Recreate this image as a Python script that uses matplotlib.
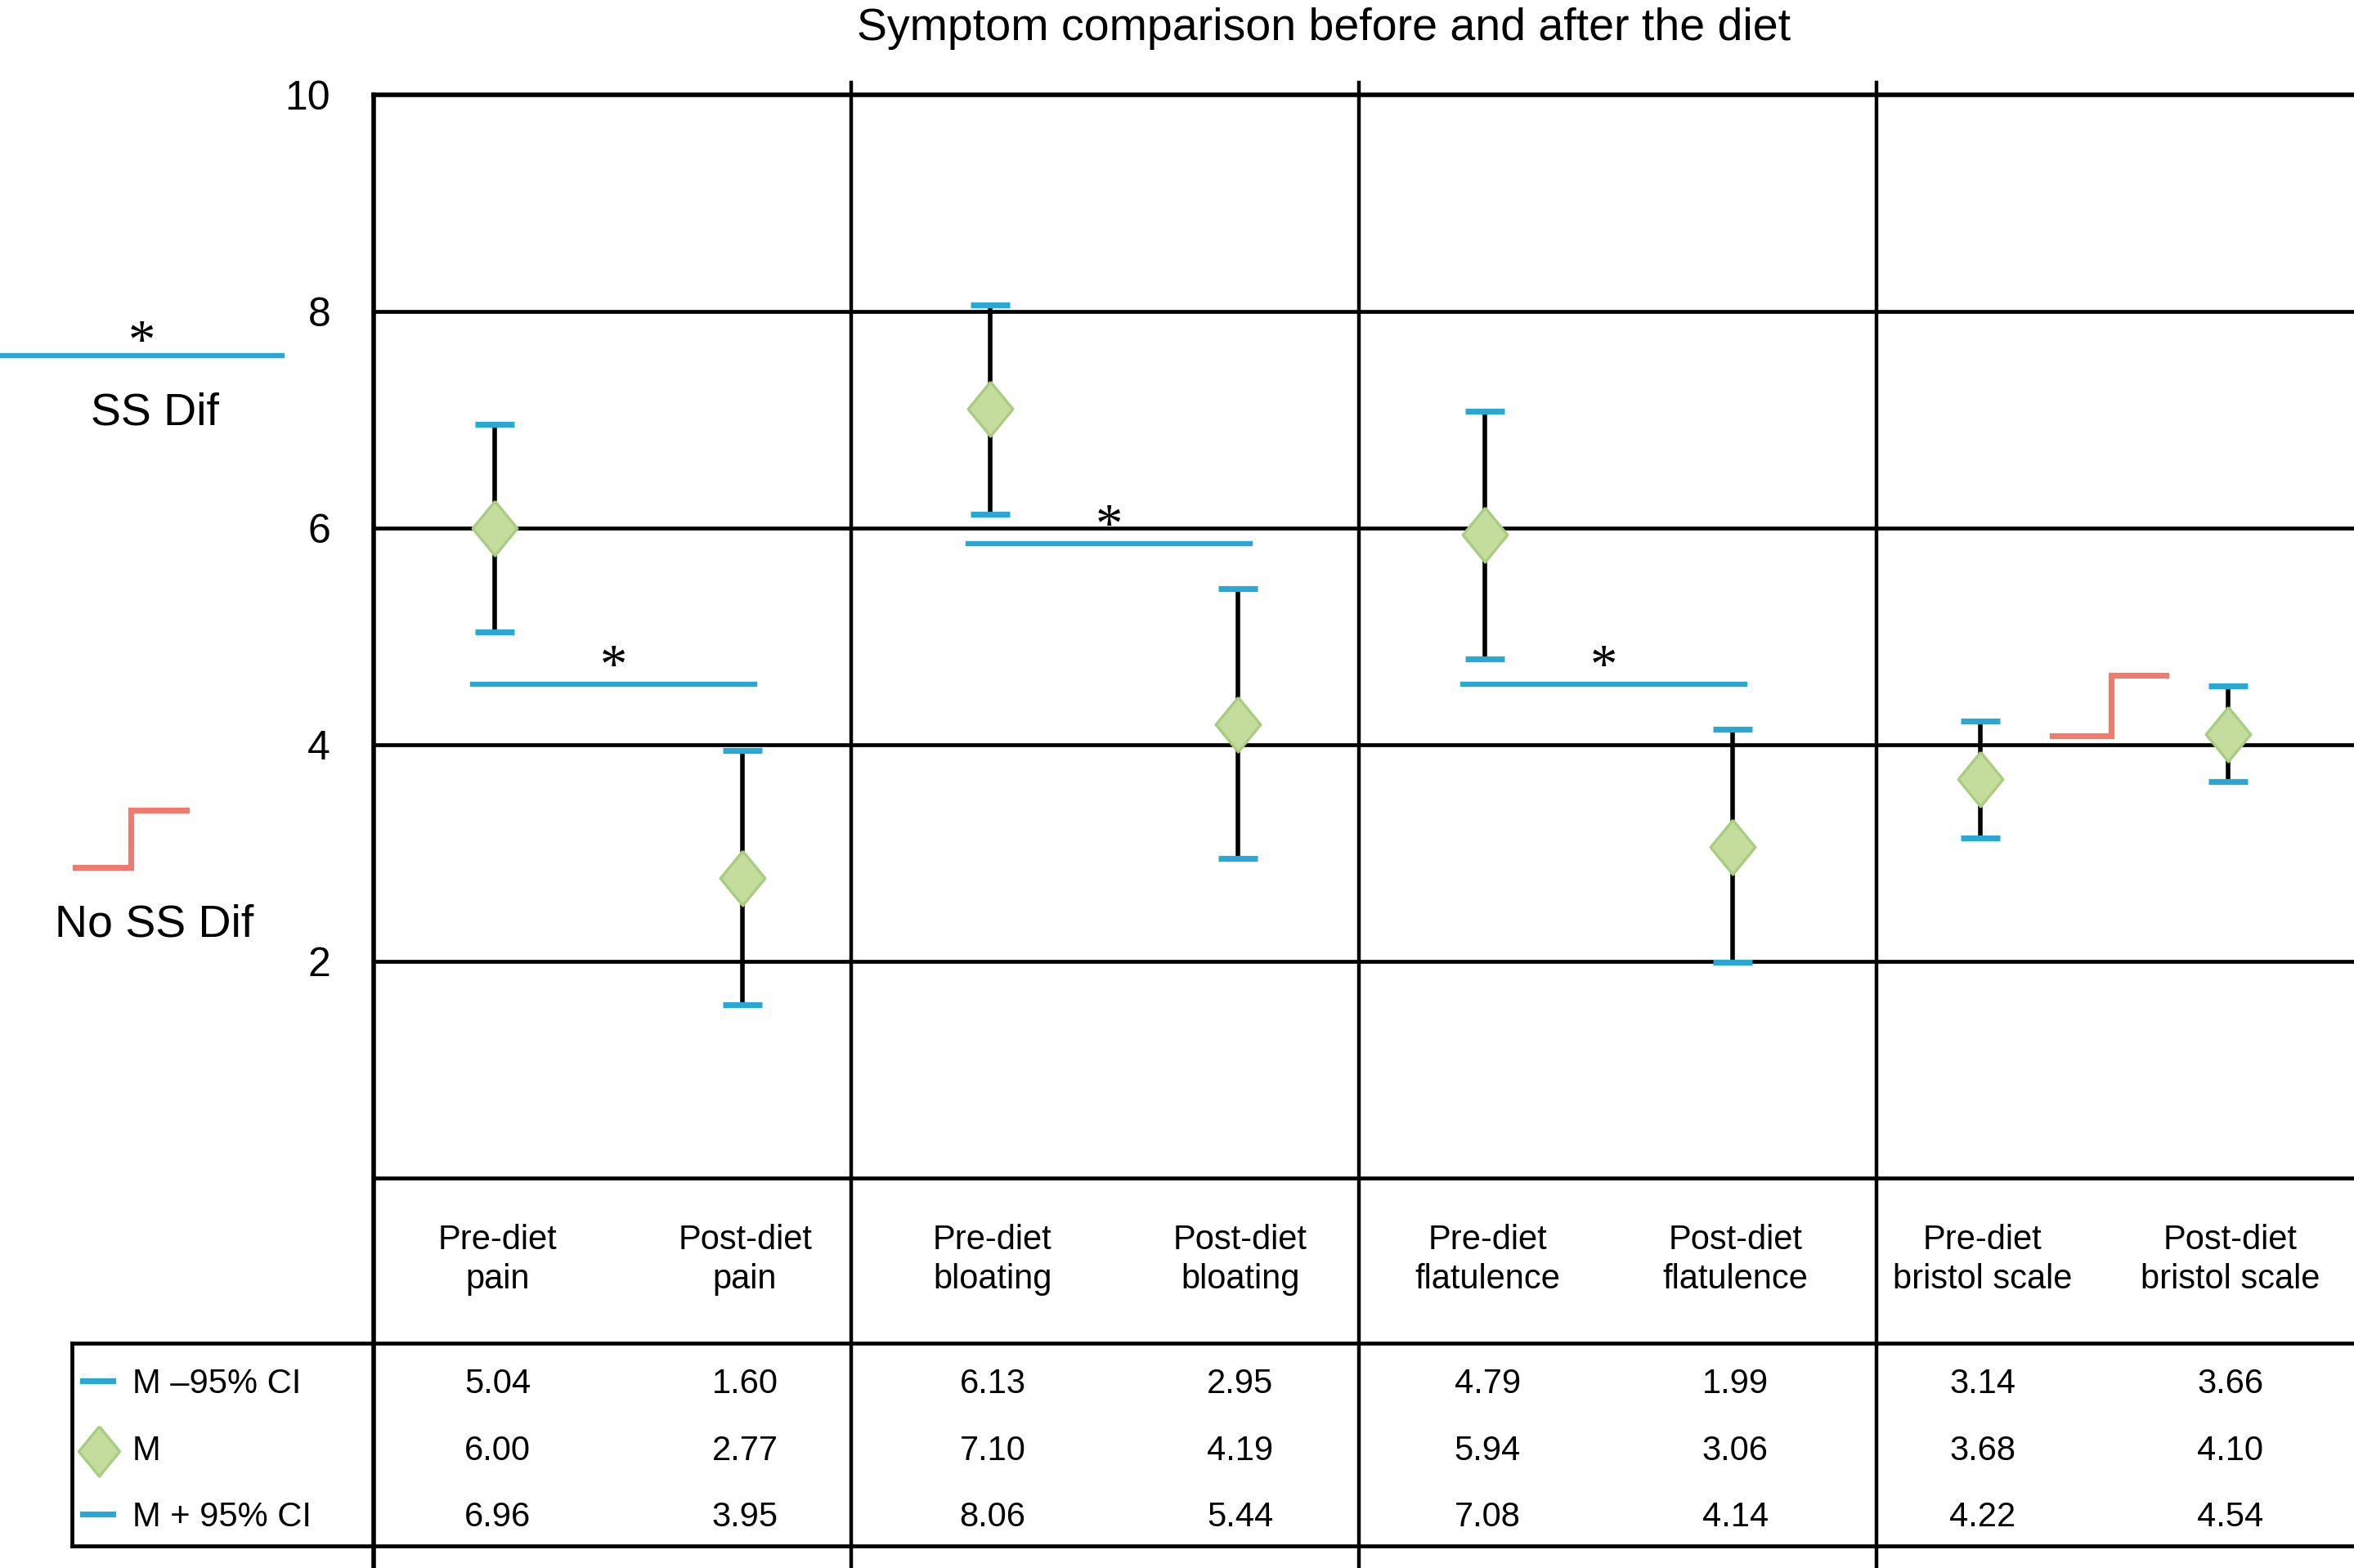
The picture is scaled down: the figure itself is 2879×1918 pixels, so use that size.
import matplotlib
matplotlib.use("Agg")
import matplotlib.pyplot as plt
import matplotlib.transforms as mtransforms
from matplotlib.lines import Line2D

plt.rcParams['font.family'] = ['Liberation Sans', 'DejaVu Sans']

# donnees
categories = ["Pre-diet\npain", "Post-diet\npain",
              "Pre-diet\nbloating", "Post-diet\nbloating",
              "Pre-diet\nflatulence", "Post-diet\nflatulence",
              "Pre-diet\nbristol scale", "Post-diet\nbristol scale"]
ci_low = [5.04, 1.60, 6.13, 2.95, 4.79, 1.99, 3.14, 3.66]
mean = [6.00, 2.77, 7.10, 4.19, 5.94, 3.06, 3.68, 4.10]
ci_high = [6.96, 3.95, 8.06, 5.44, 7.08, 4.14, 4.22, 4.54]
row_labels = ["M \u201395% CI", "M", "M + 95% CI"]
yticks = [2, 4, 6, 8, 10]
# paires significatives : (a, b, hauteur de la barre)
sig_pairs = [(0, 1, 4.56), (2, 3, 5.86), (4, 5, 4.56)]
# paire non significative : (a, b, marche basse, marche haute)
nonsig_pairs = [(6, 7, 4.08, 4.64)]

BLUE = "#2AA8D3"
GREEN = "#C4DD9C"
GREEN_EDGE = "#A9CC82"
SALMON = "#EE7C6E"

W, H, DPI = 2879, 1918, 200
fig = plt.figure(figsize=(W / DPI, H / DPI), dpi=DPI)
ax = fig.add_axes([457 / W, 1 - 1441 / H, (W - 457) / W, 1325 / H])
ax.set_xlim(-0.49, 7.51)
ax.set_ylim(0, 10)
for s in ax.spines.values():
    s.set_visible(False)
ax.set_xticks([])
ax.set_yticks(yticks)
ax.tick_params(axis="y", length=0, pad=19, labelsize=18)

xs = list(range(len(categories)))

# grille horizontale
for y in [0] + yticks:
    ax.axhline(y, color="black", lw=1.7 if y < 10 else 2.0, zorder=1,
               clip_on=False)

trans = mtransforms.blended_transform_factory(ax.transData, fig.transFigure)
y_top = 1 - 101 / H
# axe gauche et separateurs de groupes
fig.add_artist(Line2D([-0.49, -0.49], [1 - 116 / H, 0], transform=trans,
                      color="black", lw=2.0))
for gx in [1.44, 3.49, 5.58]:
    fig.add_artist(Line2D([gx, gx], [y_top, 0], transform=trans,
                          color="black", lw=1.6))

# barres d'erreur
diamond = [(0, 1), (0.82, 0), (0, -1), (-0.82, 0), (0, 1)]
ax.vlines(xs, ci_low, ci_high, color="black", lw=2.0, zorder=3)
ax.plot(xs, ci_low, linestyle="none", marker="_", color=BLUE,
        markersize=17, markeredgewidth=2.6, zorder=4)
ax.plot(xs, ci_high, linestyle="none", marker="_", color=BLUE,
        markersize=17, markeredgewidth=2.6, zorder=4)
ax.plot(xs, mean, linestyle="none", marker=diamond, markersize=24,
        markerfacecolor=GREEN, markeredgecolor=GREEN_EDGE,
        markeredgewidth=1.2, zorder=5)

# differences significatives
for a, b, h in sig_pairs:
    ax.plot([a - 0.09, b + 0.05], [h, h], color=BLUE, lw=2.3, zorder=2)
    ax.text((a + b) / 2 - 0.02, h + 0.02, "*", ha="center", va="baseline",
            fontsize=24, family="Liberation Serif")
for a, b, lo, hi in nonsig_pairs:
    xa, xm, xb = a + 0.29, a + 0.53, a + 0.75
    ax.plot([xa, xm, xm, xb], [lo, lo, hi, hi], color=SALMON, lw=2.6,
            zorder=2, solid_joinstyle="miter")

# titre
fig.text(0.5624, 0.982, "Symptom comparison before and after the diet",
         ha="center", va="center", fontsize=20)

# legende de gauche
fig.add_artist(Line2D([0, 345 / W], [1 - 435 / H] * 2, color=BLUE, lw=2.3))
fig.text(173 / W, 1 - 437 / H, "*", ha="center", va="baseline",
         fontsize=24, family="Liberation Serif")
fig.text(189 / W, 1 - 505 / H, "SS Dif", ha="center", va="center", fontsize=20)
fig.add_artist(Line2D([92 / W, 160 / W, 160 / W, 228 / W],
                      [1 - 1061 / H, 1 - 1061 / H, 1 - 991 / H, 1 - 991 / H],
                      color=SALMON, lw=2.6, solid_joinstyle="miter"))
fig.text(189 / W, 1 - 1131 / H, "No SS Dif", ha="center", va="center",
         fontsize=20)

# tableau du bas
y_row1 = 1 - 1643 / H
y_row2 = 1 - 1891 / H
x_box = 88 / W
for yy in [y_row1, y_row2]:
    fig.add_artist(Line2D([x_box, 1], [yy, yy], color="black", lw=1.7))
fig.add_artist(Line2D([x_box, x_box], [y_row1, y_row2], color="black", lw=1.7))

for x, lab in zip(xs, categories):
    ax.text(x + 0.01, 1 - 1541 / H, lab, transform=trans, ha="center",
            va="center", fontsize=15, linespacing=1.25)

rows_y = [1 - 1693 / H, 1 - 1775 / H, 1 - 1856 / H]
for vals, yy in zip([ci_low, mean, ci_high], rows_y):
    for x, v in zip(xs, vals):
        ax.text(x + 0.01, yy, f"{v:.2f}", transform=trans, ha="center",
                va="center", fontsize=15)

for lab, yy, kind in zip(row_labels, rows_y, ["cap", "diamond", "cap"]):
    if kind == "cap":
        fig.add_artist(Line2D([101 / W, 138 / W], [yy + 0.002] * 2,
                              color=BLUE, lw=2.6))
    else:
        fig.add_artist(Line2D([121 / W], [yy], marker=diamond, markersize=22,
                              markerfacecolor=GREEN, markeredgecolor=GREEN_EDGE,
                              markeredgewidth=1.2, linestyle="none"))
    fig.text(162 / W, yy, lab, ha="left", va="center", fontsize=15)

fig.savefig("out.png", dpi=DPI)
